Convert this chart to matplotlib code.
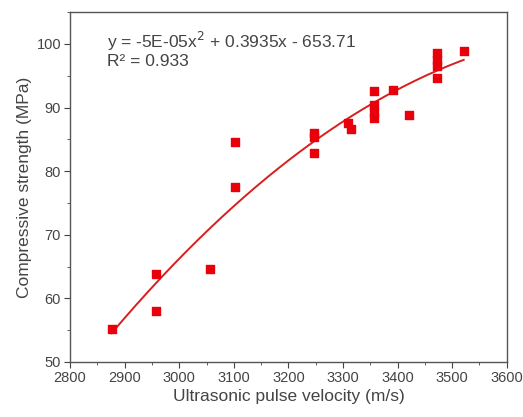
import numpy as np
import matplotlib.pyplot as plt
from matplotlib.ticker import MultipleLocator

plt.rcParams['font.family'] = ['Liberation Sans', 'DejaVu Sans']

# Data
velocity = [2876, 2958, 2958, 3056, 3102, 3102, 3246, 3246, 3246, 3310, 3314,
            3356, 3356, 3356, 3356, 3391, 3420, 3473, 3473, 3473, 3473, 3521]
strength = [55.2, 63.9, 58.0, 64.6, 84.6, 77.5, 86.0, 85.3, 82.9, 87.5, 86.6,
            92.6, 90.4, 89.3, 88.4, 92.8, 88.8, 98.5, 97.4, 96.6, 94.6, 98.9]

eq_text = 'y = -5E-05x$^2$ + 0.3935x - 653.71\nR\u00b2 = 0.933'

fig = plt.figure(figsize=(5.23, 4.17), dpi=100)
ax = fig.add_axes([0.134, 0.132, 0.835, 0.839])

ax.scatter(velocity, strength, marker='s', s=40, color='#e8000b', zorder=3)

# quadratic trendline
coef = np.polyfit(velocity, strength, 2)
xs = np.linspace(min(velocity), max(velocity), 200)
ax.plot(xs, np.polyval(coef, xs), color='#d81e1e', lw=1.4, zorder=2)

ax.set_xlim(2800, 3600)
ax.set_ylim(50, 105)
ax.set_yticks([50, 60, 70, 80, 90, 100])
ax.xaxis.set_major_locator(MultipleLocator(100))
ax.xaxis.set_minor_locator(MultipleLocator(50))
ax.yaxis.set_minor_locator(MultipleLocator(5))
ax.tick_params(which='both', direction='out', top=False, right=False,
               labelsize=10.5, colors='#444444', pad=2.5)
ax.tick_params(which='major', length=4)
ax.tick_params(which='minor', length=2.5)
for s in ax.spines.values():
    s.set_color('#555555')
    s.set_linewidth(1.0)

ax.set_xlabel('Ultrasonic pulse velocity (m/s)', fontsize=12.5, color='#444444',
              labelpad=3)
ax.set_ylabel('Compressive strength (MPa)', fontsize=12.5, color='#444444',
              labelpad=3)

ax.text(0.085, 0.95, eq_text, transform=ax.transAxes, fontsize=12.5,
        color='#444444', va='top', linespacing=1.1)

fig.savefig('out.png', dpi=100)
